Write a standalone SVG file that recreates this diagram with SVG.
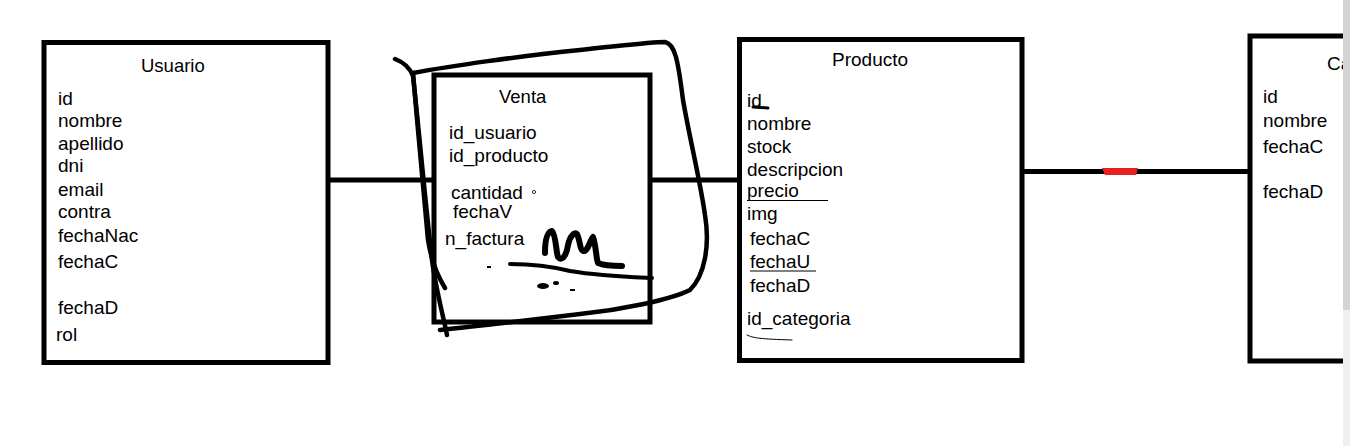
<svg xmlns="http://www.w3.org/2000/svg" width="1350" height="446" viewBox="0 0 1350 446">
<style>
.box{fill:none;stroke:#000;stroke-width:5}
.t{font-family:"Liberation Sans",Arial,sans-serif;font-size:19px;fill:#000}
.h{font-family:"Liberation Sans",Arial,sans-serif;font-size:18.5px;fill:#000}
.ink{fill:none;stroke:#000;stroke-linecap:round;stroke-linejoin:round}
.conn{stroke:#000;stroke-width:5;fill:none}
</style>
<rect width="1350" height="446" fill="#fff"/>
<g id="connectors">
<line class="conn" x1="330" y1="180" x2="434" y2="180"/>
<line class="conn" x1="652" y1="180" x2="740" y2="180"/>
<line class="conn" x1="1024" y1="171.5" x2="1250" y2="171.5"/>
<path d="M1102,168 L1138,168 L1136,175 L1105,175 Z" fill="#e8201e"/>
</g>
<g id="usuario">
<rect class="box" x="44" y="42.5" width="284" height="320"/>
<text class="h" x="141" y="72">Usuario</text>
<text class="t" x="58" y="105">id</text>
<text class="t" x="58" y="127">nombre</text>
<text class="t" x="58" y="150">apellido</text>
<text class="t" x="58" y="172">dni</text>
<text class="t" x="58" y="196">email</text>
<text class="t" x="58" y="218">contra</text>
<text class="t" x="58" y="242">fechaNac</text>
<text class="t" x="58" y="268">fechaC</text>
<text class="t" x="58" y="314">fechaD</text>
<text class="t" x="56" y="341">rol</text>
</g>
<g id="venta">
<rect class="box" x="434" y="75" width="216" height="247"/>
<text class="h" x="499" y="103">Venta</text>
<text class="t" x="449" y="139">id_usuario</text>
<text class="t" x="449" y="162">id_producto</text>
<text class="t" x="451" y="199">cantidad</text>
<text class="t" x="453" y="218">fechaV</text>
<text class="t" x="445" y="245">n_factura</text>
<circle cx="534" cy="192" r="1.6" fill="none" stroke="#000" stroke-width="0.8"/>
<path class="ink" stroke-width="4.5" d="M395,59 C403,62 410,68 413,76 C418,120 425,200 432,260 C436,290 443,315 447,335"/>
<path class="ink" stroke-width="4.5" d="M413,73 C418,130 424,200 428,240 C432,265 440,280 445,288"/>
<path class="ink" stroke-width="4.5" d="M413,73 C450,66 520,56 580,50 C620,46 650,42 665,42 C675,44 678,60 683,100 C690,140 700,180 705,215 C710,245 705,275 690,290 C670,300 620,310 580,314 C530,320 480,326 440,330"/>
<path class="ink" stroke-width="6" d="M545,253 C545,240 547,232 552,231 C556,235 556,252 558,257 C561,261 566,258 568,245 C570,236 574,232 577,234 C580,240 580,250 583,251 C588,252 590,240 593,237 C596,245 596,258 598,263 C605,266 615,266 622,266"/>
<path class="ink" stroke-width="4" d="M510,264 C530,264 550,266 570,271 C600,276 630,277 652,278"/>
<ellipse cx="543" cy="286" rx="6" ry="3" fill="#000"/>
<ellipse cx="556" cy="283" rx="3" ry="2" fill="#000"/>
<rect x="487" y="266" width="4" height="2" fill="#000"/>
<rect x="570" y="289" width="5" height="2" fill="#000"/>
</g>
<g id="producto">
<rect class="box" x="739.5" y="39.5" width="282.5" height="321"/>
<text class="t" x="832" y="66">Producto</text>
<text class="t" x="747" y="107">id</text>
<path class="ink" stroke-width="3" d="M753,107 L768,108"/>
<text class="t" x="747" y="130">nombre</text>
<text class="t" x="747" y="153">stock</text>
<text class="t" x="747" y="176">descripcion</text>
<text class="t" x="747" y="197">precio</text>
<line x1="747" y1="200.5" x2="828" y2="200.5" stroke="#000" stroke-width="1"/>
<text class="t" x="747" y="220">img</text>
<text class="t" x="750" y="245">fechaC</text>
<text class="t" x="750" y="268">fechaU</text>
<line x1="750" y1="271" x2="816" y2="271" stroke="#000" stroke-width="1"/>
<text class="t" x="750" y="292">fechaD</text>
<text class="t" x="747" y="325">id_categoria</text>
<path class="ink" stroke-width="1" d="M747,335 C753,338 760,339 792,340"/>
</g>
<g id="categoria">
<path class="box" d="M1343,36 H1250 V361 H1343"/>
<text class="t" x="1327" y="70">Ca</text>
<text class="t" x="1263" y="103">id</text>
<text class="t" x="1263" y="127">nombre</text>
<text class="t" x="1263" y="153">fechaC</text>
<text class="t" x="1263" y="198">fechaD</text>
</g>
<rect x="1343" y="0" width="7" height="310" fill="#d4d4d4"/>
<rect x="1343" y="310" width="7" height="136" fill="#efefef"/>
</svg>
